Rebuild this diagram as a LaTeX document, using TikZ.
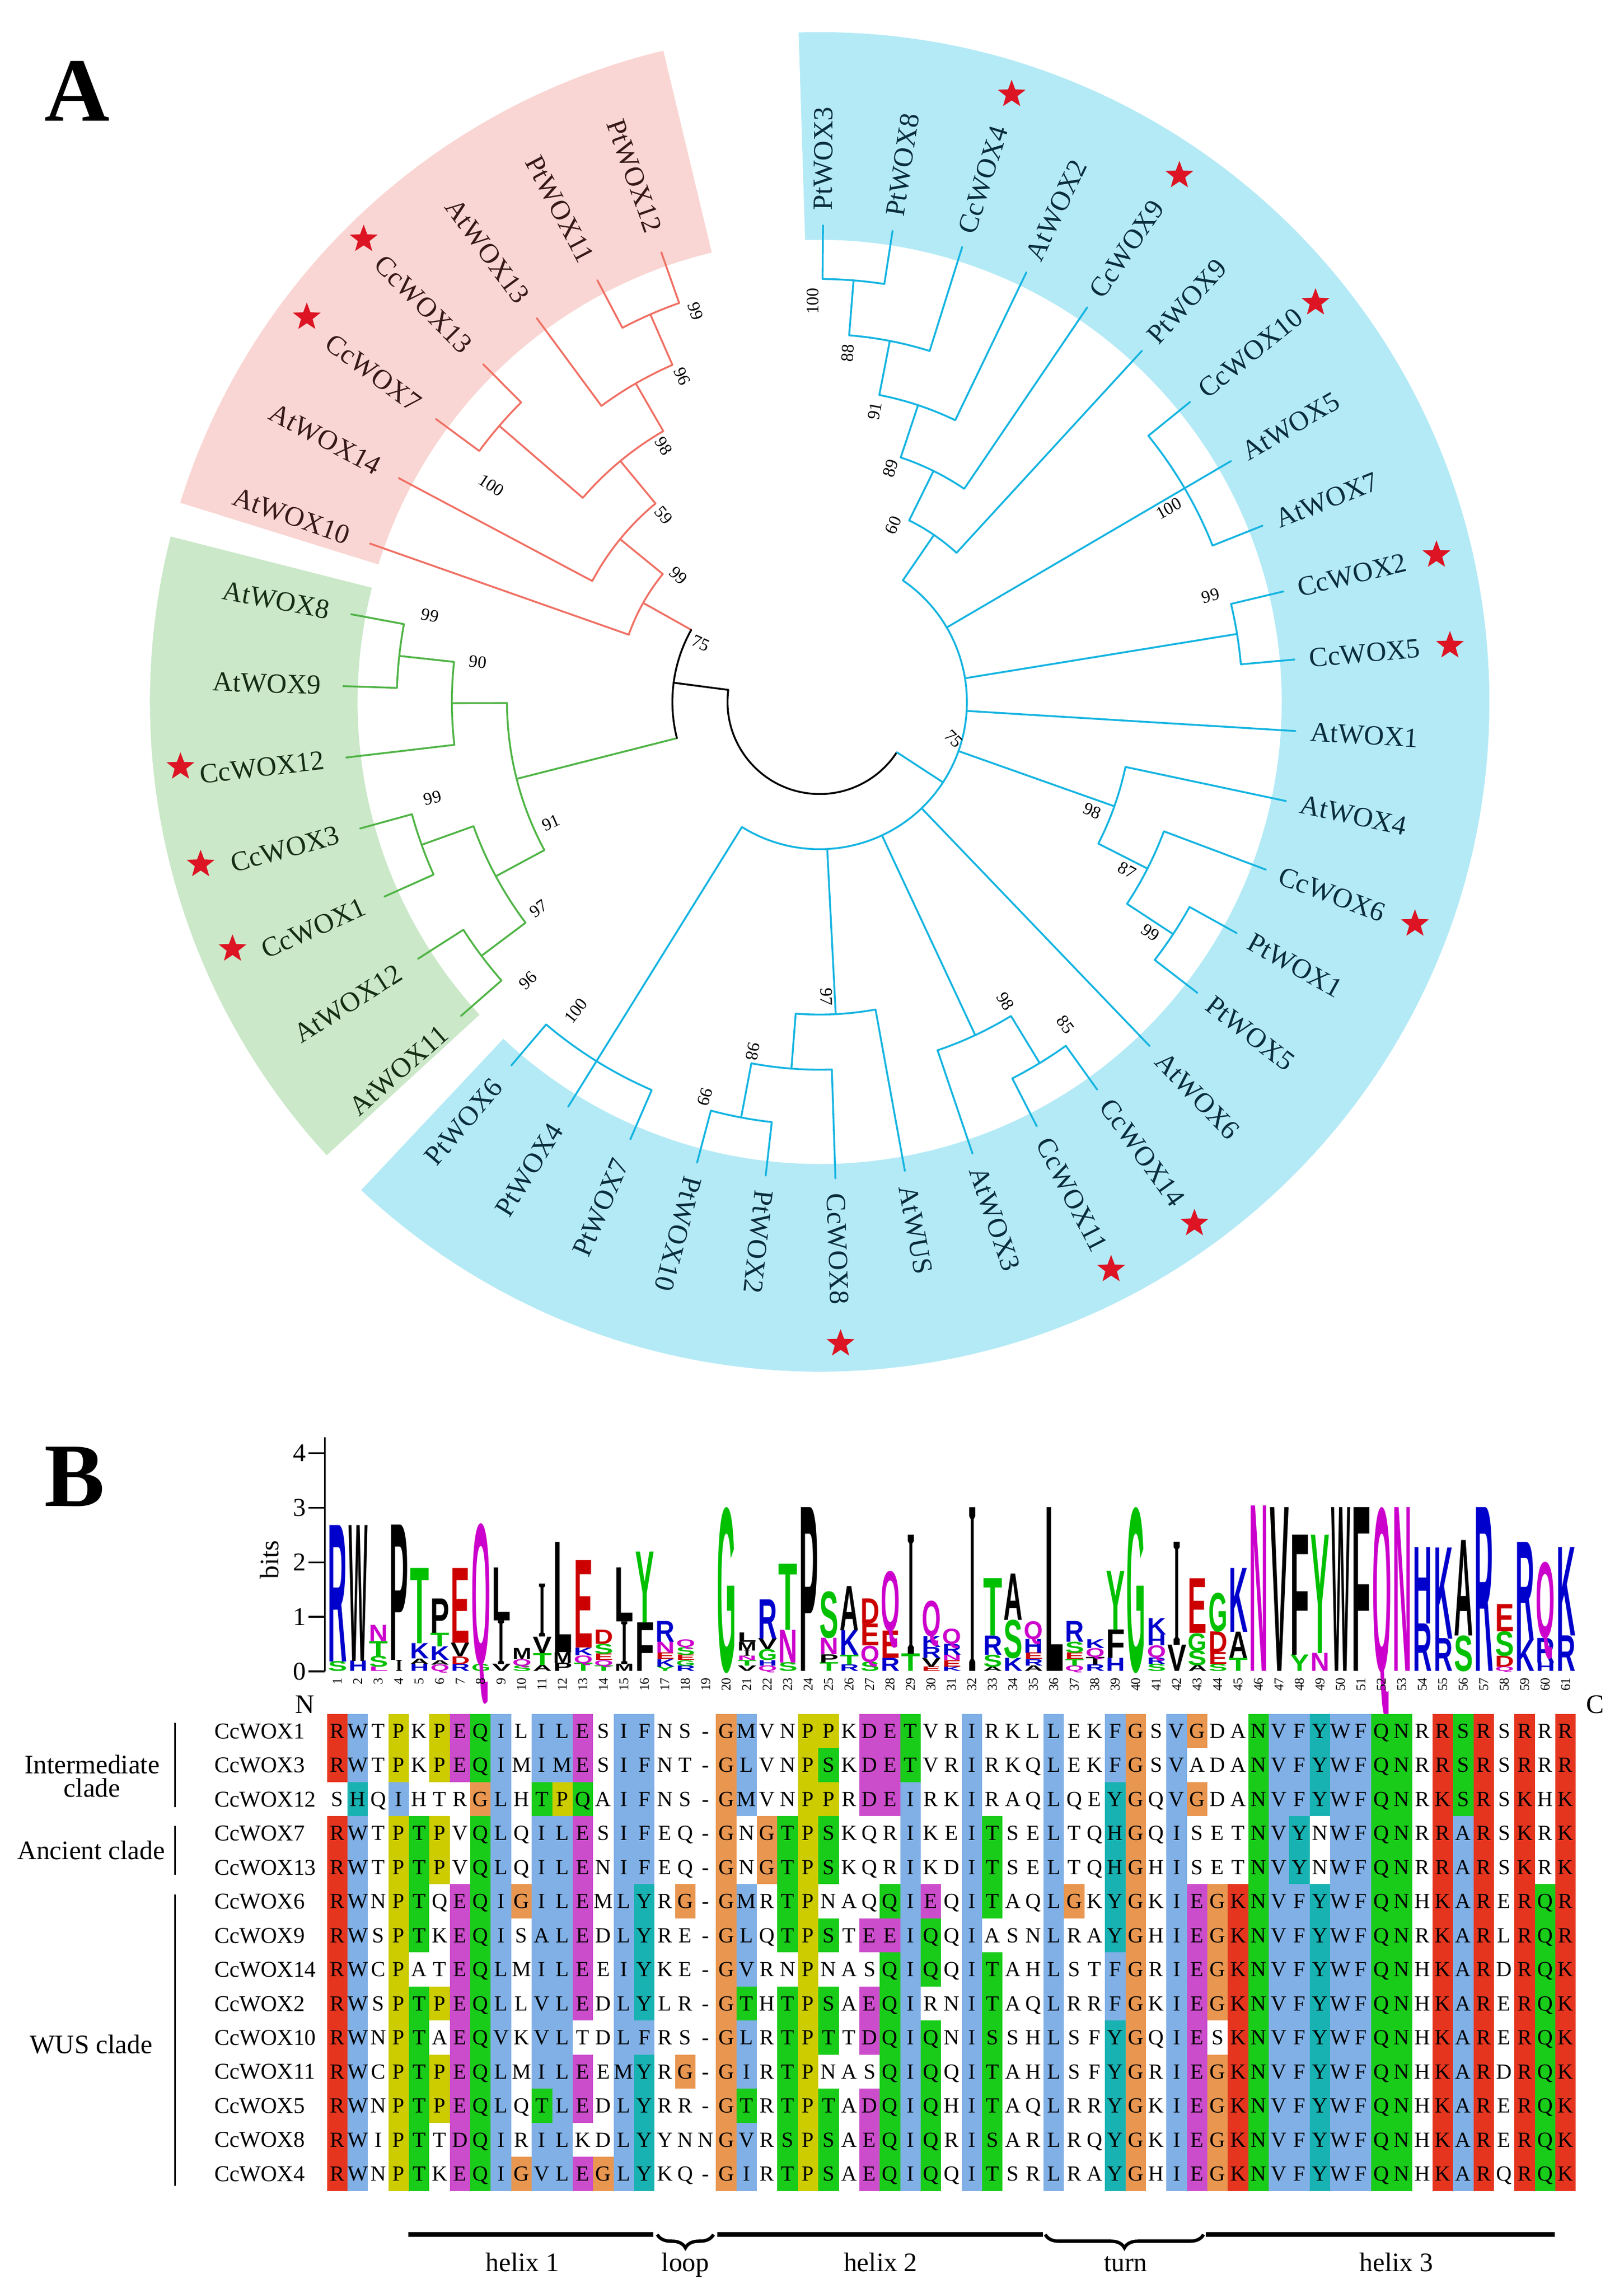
\documentclass[tikz,border=0pt]{standalone}
\usepackage{fontspec}
\usepackage{graphicx}
\setmainfont{Liberation Serif}
\newfontfamily\logosans{Liberation Sans}
\usetikzlibrary{shapes.geometric,decorations.pathreplacing}

\definecolor{pinkbg}{RGB}{249,214,211}
\definecolor{greenbg}{RGB}{203,232,201}
\definecolor{cyanbg}{RGB}{180,234,246}
\definecolor{pinkln}{RGB}{240,112,100}
\definecolor{greenln}{RGB}{80,180,70}
\definecolor{cyanln}{RGB}{20,180,225}
\definecolor{pinktx}{RGB}{55,25,25}
\definecolor{greentx}{RGB}{20,45,20}
\definecolor{cyantx}{RGB}{10,45,60}
\definecolor{starred}{RGB}{220,20,35}
\definecolor{cr}{RGB}{230,53,31}
\definecolor{cb}{RGB}{128,176,230}
\definecolor{cy}{RGB}{204,204,0}
\definecolor{cm}{RGB}{204,77,204}
\definecolor{cg}{RGB}{25,204,25}
\definecolor{co}{RGB}{232,150,80}
\definecolor{cc}{RGB}{25,178,178}
\definecolor{lgb}{RGB}{0,0,204}
\definecolor{lgg}{RGB}{0,192,0}
\definecolor{lgm}{RGB}{204,0,204}
\definecolor{lgr}{RGB}{204,0,0}
\definecolor{lgk}{RGB}{0,0,0}

% ---------- alignment table machinery ----------
\newcount\colidx
\def\rowidx{1}
\def\seqrow#1#2{\global\colidx=0 \def\rowidx{#1}\seqloop#2!!}
\def\seqloop#1#2{\ifx#1!\else\seqcell{#1}{#2}\expandafter\seqloop\fi}
\def\seqcell#1#2{%
  \global\advance\colidx by 1
  \pgfmathsetmacro\cx{223.6+14*(\the\colidx-1)}%
  \pgfmathsetmacro\cyb{395.9-23.29*\rowidx}%
  \ifx#2n\else\fill[fill=c#2] (\cx,\cyb) rectangle ++(14,23.29);\fi
  \node[res] at (\cx+7,\cyb+6.75) {#1};}

% ---------- logo machinery ----------
\def\letterI{I}
\newcommand\logocol[2]{%
  \gdef\ycum{0}%
  \foreach \L/\C/\H in {#2}{%
    \pgfmathsetmacro\ly{425.1+\ycum*37.3}%
    \pgfmathsetmacro\hmm{\H*37.3*0.25}%
    \edef\tmpL{\L}%
    \ifx\tmpL\letterI
      \pgfmathsetmacro\lx{223.6+14*(#1-1)+4.5}%
      \node[inner sep=0pt, anchor=base west, text=lg\C] at (\lx,\ly) {\resizebox{1.25mm}{\hmm mm}{\bfseries I}};%
    \else
      \pgfmathsetmacro\lx{223.6+14*(#1-1)+0.5}%
      \node[inner sep=0pt, anchor=base west, text=lg\C] at (\lx,\ly) {\resizebox{3.25mm}{\hmm mm}{\logosans\bfseries\L}};%
    \fi
    \pgfmathsetmacro\newy{\ycum+\H}%
    \xdef\ycum{\newy}%
  }}

% ---------- tree machinery ----------
\newcommand\branch[5]{%
  \coordinate (#2-base) at (#3:#4);
  \coordinate (#2) at (#3:#5);
  \draw[#1] (#2-base) -- (#2);}
\newcommand\nodearc[4]{\draw[#1] (#3:#2) arc[start angle=#3, end angle=#4, radius=#2];}

\begin{document}
\begin{tikzpicture}[x=0.25mm,y=0.25mm,
  pl/.style={draw=pinkln, line width=0.9pt, line cap=round},
  gl/.style={draw=greenln, line width=0.9pt, line cap=round},
  cl/.style={draw=cyanln, line width=0.9pt, line cap=round},
  kl/.style={draw=black, line width=0.9pt, line cap=round},
  leaflab/.style={font=\fontsize{13.5}{14}\selectfont, inner sep=0pt},
  boot/.style={font=\fontsize{8.5}{9}\selectfont, inner sep=0pt},
  starmark/.style={star, star points=5, star point ratio=2.4, fill=starred, draw=none, minimum size=5mm, inner sep=0pt},
  res/.style={font=\fontsize{10.5}{11}\selectfont, inner sep=0pt, anchor=base},
  rowlab/.style={font=\fontsize{11}{12}\selectfont, inner sep=0pt, anchor=base west},
  cladelab/.style={font=\fontsize{13}{11.5}\selectfont, align=center, inner sep=0pt},
  posnum/.style={font=\fontsize{6.5}{6.5}\selectfont, rotate=90, anchor=east, inner sep=0pt},
  helixlab/.style={font=\fontsize{13}{13}\selectfont, anchor=base, inner sep=0pt},
  bigletter/.style={font=\fontsize{44}{44}\selectfont\bfseries, inner sep=0pt}
]
\useasboundingbox (0,0) rectangle (1110.2,1568);

% ================= Panel A =================
\node[bigletter] (labA) at (52.6,1505.8) {A};

\begin{scope}[shift={(560.5,1088)}]
% clade backgrounds
\fill[pinkbg] (103.5:316) arc[start angle=103.5, end angle=162.7, radius=316] -- (162.7:458) arc[start angle=162.7, end angle=103.5, radius=458] -- cycle;
\fill[greenbg] (165.7:316) arc[start angle=165.7, end angle=222.6, radius=316] -- (222.6:458) arc[start angle=222.6, end angle=165.7, radius=458] -- cycle;
\fill[cyanbg] (-133.2:316) arc[start angle=-133.2, end angle=91.8, radius=316] -- (91.8:458) arc[start angle=91.8, end angle=-133.2, radius=458] -- cycle;

% pink clade
\nodearc{pl}{289.2}{109.4}{117.8}
\branch{pl}{PtWOX12}{109.4}{289.2}{326}
\branch{pl}{PtWOX11}{117.8}{289.2}{326}
\branch{pl}{nA}{113.6}{251.5}{289.2}
\nodearc{pl}{251.5}{113.6}{126.4}
\branch{pl}{AtWOX13}{126.4}{251.5}{326}
\branch{pl}{nB}{120}{213.8}{251.5}
\nodearc{pl}{289.2}{134.9}{143.6}
\branch{pl}{CcWOX13}{134.9}{289.2}{326}
\branch{pl}{CcWOX7}{143.6}{289.2}{326}
\branch{pl}{nC}{139.25}{213.8}{289.2}
\nodearc{pl}{213.8}{120}{139.25}
\branch{pl}{nD}{129.6}{176.1}{213.8}
\nodearc{pl}{176.1}{129.6}{152}
\branch{pl}{AtWOX14}{152}{176.1}{326}
\branch{pl}{nE}{140.8}{138.4}{176.1}
\nodearc{pl}{138.4}{140.8}{160.6}
\branch{pl}{AtWOX10}{160.6}{138.4}{326}
\branch{pl}{nF}{150.7}{100.7}{138.4}
% green clade
\nodearc{gl}{289.2}{169.4}{178.1}
\branch{gl}{AtWOX8}{169.4}{289.2}{326}
\branch{gl}{AtWOX9}{178.1}{289.2}{326}
\branch{gl}{nG}{173.75}{251.5}{289.2}
\nodearc{gl}{251.5}{173.75}{186.7}
\branch{gl}{CcWOX12}{186.7}{251.5}{326}
\branch{gl}{nH}{180.2}{213.8}{251.5}
\nodearc{gl}{289.2}{195.4}{204.1}
\branch{gl}{CcWOX3}{195.4}{289.2}{326}
\branch{gl}{CcWOX1}{204.1}{289.2}{326}
\branch{gl}{nI}{199.75}{251.5}{289.2}
\nodearc{gl}{289.2}{212.6}{221.2}
\branch{gl}{AtWOX12}{212.6}{289.2}{326}
\branch{gl}{AtWOX11}{221.2}{289.2}{326}
\branch{gl}{nK}{216.9}{251.5}{289.2}
\nodearc{gl}{251.5}{199.75}{216.9}
\branch{gl}{nJ}{208.3}{213.8}{251.5}
\nodearc{gl}{213.8}{180.2}{208.3}
\branch{gl}{nL}{194.25}{100.7}{213.8}
% root
\nodearc{kl}{100.7}{150.7}{194.25}
\branch{kl}{nPG}{172.5}{63}{100.7}
\nodearc{kl}{63}{172.5}{326.9}
% cyan clade
\branch{cl}{nU}{326.9}{63}{100.7}
\nodearc{cl}{100.7}{-121.85}{55.6}
\branch{cl}{nQ}{55.6}{100.7}{138.4}
\nodearc{cl}{138.4}{47.45}{63.75}
\branch{cl}{PtWOX9}{47.45}{138.4}{326}
\branch{cl}{nP}{63.75}{138.4}{176.1}
\nodearc{cl}{176.1}{55.85}{71.65}
\branch{cl}{CcWOX9}{55.85}{176.1}{326}
\branch{cl}{nO}{71.65}{176.1}{213.8}
\nodearc{cl}{213.8}{64.3}{79}
\branch{cl}{AtWOX2}{64.3}{213.8}{326}
\branch{cl}{nN}{79}{213.8}{251.5}
\nodearc{cl}{251.5}{72.6}{85.4}
\branch{cl}{CcWOX4}{72.6}{251.5}{326}
\branch{cl}{nM}{85.4}{251.5}{289.2}
\nodearc{cl}{289.2}{81.2}{89.6}
\branch{cl}{PtWOX3}{89.6}{289.2}{326}
\branch{cl}{PtWOX8}{81.2}{289.2}{326}
\branch{cl}{nR}{30.35}{100.7}{289.2}
\nodearc{cl}{289.2}{21.7}{39}
\branch{cl}{CcWOX10}{39}{289.2}{326}
\branch{cl}{AtWOX5}{30.35}{289.2}{326}
\branch{cl}{AtWOX7}{21.7}{289.2}{326}
\branch{cl}{nS}{9.25}{100.7}{289.2}
\nodearc{cl}{289.2}{5.1}{13.4}
\branch{cl}{CcWOX2}{13.4}{289.2}{326}
\branch{cl}{CcWOX5}{5.1}{289.2}{326}
\branch{cl}{AtWOX1}{-3.5}{100.7}{326}
\branch{cl}{nV}{-19.5}{100.7}{213.8}
\nodearc{cl}{213.8}{-26.95}{-12}
\branch{cl}{AtWOX4}{-12}{213.8}{326}
\branch{cl}{nZ}{-26.95}{213.8}{251.5}
\nodearc{cl}{251.5}{-33.3}{-20.6}
\branch{cl}{CcWOX6}{-20.6}{251.5}{326}
\branch{cl}{nAA}{-33.3}{251.5}{289.2}
\nodearc{cl}{289.2}{-37.6}{-29}
\branch{cl}{PtWOX1}{-29}{289.2}{326}
\branch{cl}{PtWOX5}{-37.6}{289.2}{326}
\branch{cl}{AtWOX6}{-46.2}{100.7}{326}
\branch{cl}{nW}{-64.97}{100.7}{251.5}
\nodearc{cl}{251.5}{-71.3}{-58.65}
\branch{cl}{AtWOX3}{-71.3}{251.5}{326}
\branch{cl}{nBB}{-58.65}{251.5}{289.2}
\nodearc{cl}{289.2}{-62.9}{-54.4}
\branch{cl}{CcWOX14}{-54.4}{289.2}{326}
\branch{cl}{CcWOX11}{-62.9}{289.2}{326}
\branch{cl}{nX}{-87.05}{100.7}{213.8}
\nodearc{cl}{213.8}{-94.4}{-79.7}
\branch{cl}{AtWUS}{-79.7}{213.8}{326}
\branch{cl}{nCC}{-94.4}{213.8}{251.5}
\nodearc{cl}{251.5}{-100.7}{-88.1}
\branch{cl}{CcWOX8}{-88.1}{251.5}{326}
\branch{cl}{nDD}{-100.7}{251.5}{289.2}
\nodearc{cl}{289.2}{-104.9}{-96.5}
\branch{cl}{PtWOX2}{-96.5}{289.2}{326}
\branch{cl}{PtWOX10}{-104.9}{289.2}{326}
\branch{cl}{nY}{-121.85}{100.7}{289.2}
\nodearc{cl}{289.2}{-130.3}{-113.4}
\branch{cl}{PtWOX7}{-113.4}{289.2}{326}
\branch{cl}{PtWOX4}{-121.85}{289.2}{326}
\branch{cl}{PtWOX6}{-130.3}{289.2}{326}

% leaf labels
\foreach \nm/\an/\tc/\fl in {
 PtWOX3/89.6/cyantx/0, PtWOX8/81.2/cyantx/0, CcWOX4/72.6/cyantx/0, AtWOX2/64.3/cyantx/0,
 CcWOX9/55.85/cyantx/0, PtWOX9/47.45/cyantx/0, CcWOX10/39/cyantx/0, AtWOX5/30.35/cyantx/0,
 AtWOX7/21.7/cyantx/0, CcWOX2/13.4/cyantx/0, CcWOX5/5.1/cyantx/0, AtWOX1/-3.5/cyantx/0,
 AtWOX4/-12/cyantx/0, CcWOX6/-20.6/cyantx/0, PtWOX1/-29/cyantx/0, PtWOX5/-37.6/cyantx/0,
 AtWOX6/-46.2/cyantx/0, CcWOX14/-54.4/cyantx/0, CcWOX11/-62.9/cyantx/0, AtWOX3/-71.3/cyantx/0,
 AtWUS/-79.7/cyantx/0, CcWOX8/-88.1/cyantx/0, PtWOX2/-96.5/cyantx/0, PtWOX10/-104.9/cyantx/0,
 PtWOX7/-113.4/cyantx/1, PtWOX4/-121.85/cyantx/1, PtWOX6/-130.3/cyantx/1,
 AtWOX11/221.2/greentx/1, AtWOX12/212.6/greentx/1, CcWOX1/204.1/greentx/1, CcWOX3/195.4/greentx/1,
 CcWOX12/186.7/greentx/1, AtWOX9/178.1/greentx/1, AtWOX8/169.4/greentx/1,
 AtWOX10/160.6/pinktx/1, AtWOX14/152/pinktx/1, CcWOX7/143.6/pinktx/1, CcWOX13/134.9/pinktx/1,
 AtWOX13/126.4/pinktx/1, PtWOX11/117.8/pinktx/1, PtWOX12/109.4/pinktx/1}{
  \ifnum\fl=1
    \pgfmathsetmacro\rr{\an-180}
    \node[leaflab, text=\tc, rotate=\rr, anchor=east] (lab-\nm) at (\an:341) {\nm};
  \else
    \node[leaflab, text=\tc, rotate=\an, anchor=west] (lab-\nm) at (\an:336) {\nm};
  \fi
}

% bootstrap values
\foreach \v/\a/\r/\rot [count=\i] in {
 99/107.6/280.4/-72.4, 96/112.9/241.7/-67, 98/121.4/205/-58.6, 59/129.9/166.3/-50,
 99/138.2/129.6/-41.8, 75/153.7/90.6/-24, 100/146.6/269/-33.4,
 99/167.5/273/-12.5, 90/173.3/235.4/-6.7, 91/204.2/201.4/24.2, 99/193.9/272.7/13.9,
 97/216.3/238.5/36.3, 96/223.7/275.7/43.7,
 100/91/274.2/90, 88/85.4/239.4/85.4, 91/79.3/202.5/79.3, 89/73.1/167/73.1, 60/67.4/131/67.4,
 100/29/272.9/29, 99/15.2/277/15.2, 75/-15.4/95/-45, 98/-21.8/200.8/-21.8,
 87/-28.7/239.8/-28.7, 99/-34.9/275.7/-34.9, 98/-58.2/240.9/-58.2, 85/-52.7/277.4/-52.7,
 97/-88.7/201.6/-88.7, 98/-100.8/243.4/-100.8, 99/-106.2/281.2/-106.2, 100/231.7/269/51.7}{
  \node[boot, rotate=\rot] (bs\i) at (\a:\r) {\v};
}
\end{scope}

% stars
\foreach \sx/\sy [count=\i] in {248.7/1404.4, 209.8/1351.1, 691.8/1503.5, 806.5/1448, 899.6/1361,
  982.3/1188.5, 991.5/1126.5, 967.6/936.2, 816.8/731.4, 759.8/699.9, 574.8/649.1,
  123.4/1043.6, 137.2/976.9, 159/919.1}{
  \node[starmark] (star\i) at (\sx,\sy) {};
}

% ================= Panel B =================
\node[bigletter] (labB) at (51,558) {B};

% logo axis
\draw[line width=0.8pt] (222,585) -- (222,425.1);
\foreach \b in {0,...,4}{
  \draw[line width=0.8pt] (211,{425.1+37.3*\b}) -- (222,{425.1+37.3*\b});
  \node[anchor=east, inner sep=0pt, font=\fontsize{12.5}{13}\selectfont] (tick\b) at (209.5,{425.1+37.3*\b}) {\b};
}
\node[rotate=90, inner sep=0pt, font=\fontsize{13}{13}\selectfont] (bitslab) at (184.2,501.5) {bits};

% logo letters
\logocol{1}{S/g/0.18,R/b/2.5}
\logocol{2}{H/b/0.19,W/k/2.49}
\logocol{3}{L/m/0.08,S/g/0.2,T/g/0.27,N/m/0.3}
\logocol{4}{I/k/0.2,P/k/2.48}
\logocol{5}{H/b/0.13,A/k/0.1,K/b/0.28,T/g/1.38}
\logocol{6}{Q/m/0.12,A/k/0.08,K/b/0.25,T/g/0.25,P/k/0.63}
\logocol{7}{R/b/0.13,D/r/0.14,V/k/0.25,E/r/1.37}
\logocol{8}{G/g/0.13,Q/m/2.58}
\logocol{9}{V/k/0.13,I/k/0.8,L/k/0.97}
\logocol{10}{S/g/0.1,Q/m/0.12,M/k/0.2}
\logocol{11}{A/k/0.11,T/g/0.22,V/k/0.3,I/k/0.97}
\logocol{12}{P/k/0.15,M/k/0.2,L/k/2.02}
\logocol{13}{T/g/0.15,Q/m/0.14,K/b/0.14,E/r/1.6}
\logocol{14}{T/g/0.1,Q/m/0.1,E/r/0.12,S/g/0.18,D/r/0.26}
\logocol{15}{M/k/0.13,I/k/0.78,L/k/0.99}
\logocol{16}{F/k/0.89,Y/g/1.3}
\logocol{17}{Y/g/0.08,K/b/0.14,E/r/0.12,N/m/0.2,R/b/0.38}
\logocol{18}{R/b/0.1,G/g/0.1,E/r/0.1,S/g/0.14,Q/m/0.14}
\logocol{20}{G/g/3.0}
\logocol{21}{V/k/0.1,T/g/0.1,N/m/0.08,I/k/0.1,M/k/0.16,L/k/0.17}
\logocol{22}{Q/m/0.1,H/b/0.1,G/g/0.2,V/k/0.2,R/b/0.72}
\logocol{23}{S/g/0.16,N/m/0.6,T/g/1.21}
\logocol{24}{P/k/3.0}
\logocol{25}{T/g/0.16,P/k/0.15,N/m/0.3,S/g/0.85}
\logocol{26}{R/b/0.12,T/g/0.18,K/b/0.45,A/k/0.81}
\logocol{27}{S/g/0.17,Q/m/0.3,E/r/0.4,D/r/0.46}
\logocol{28}{R/b/0.24,E/r/0.5,Q/m/1.1}
\logocol{29}{T/g/0.32,I/k/2.18}
\logocol{30}{E/r/0.08,V/k/0.16,R/b/0.2,K/b/0.2,Q/m/0.65}
\logocol{31}{K/b/0.08,E/r/0.12,N/m/0.1,R/b/0.2,Q/m/0.28}
\logocol{32}{I/k/3.0}
\logocol{33}{A/k/0.08,S/g/0.22,R/b/0.35,T/g/1.05}
\logocol{34}{K/b/0.24,S/g/0.7,A/k/0.85}
\logocol{35}{A/k/0.1,R/b/0.12,E/r/0.12,H/b/0.25,Q/m/0.33}
\logocol{36}{L/k/3.0}
\logocol{37}{Q/m/0.1,T/g/0.12,E/r/0.12,S/g/0.2,R/b/0.38}
\logocol{38}{R/b/0.12,T/k/0.14,Q/m/0.16,K/b/0.16}
\logocol{39}{H/b/0.24,F/k/0.52,Y/g/1.08}
\logocol{40}{G/g/3.0}
\logocol{41}{S/g/0.13,R/b/0.12,Q/m/0.22,H/b/0.2,K/b/0.3}
\logocol{42}{V/k/0.48,I/k/1.89}
\logocol{43}{A/k/0.11,S/g/0.27,G/g/0.32,E/r/1.0}
\logocol{44}{S/g/0.13,E/r/0.22,D/r/0.38,G/g/0.71}
\logocol{45}{T/g/0.24,A/k/0.48,K/b/1.17}
\logocol{46}{N/m/3.03}
\logocol{47}{V/k/3.0}
\logocol{48}{Y/g/0.3,F/k/2.2}
\logocol{49}{N/m/0.33,Y/g/2.17}
\logocol{50}{W/k/3.0}
\logocol{51}{F/k/3.0}
\logocol{52}{Q/m/3.0}
\logocol{53}{N/m/3.0}
\logocol{54}{R/b/0.87,H/b/1.4}
\logocol{55}{R/b/0.6,K/b/1.67}
\logocol{56}{S/g/0.65,A/k/1.75}
\logocol{57}{R/b/3.0}
\logocol{58}{Q/m/0.08,D/r/0.2,S/g/0.45,E/r/0.5}
\logocol{59}{K/b/0.57,R/b/1.8}
\logocol{60}{H/b/0.16,R/b/0.45,Q/m/1.39}
\logocol{61}{R/b/0.65,K/b/1.62}

% position numbers
\foreach \k in {1,...,61}{
  \node[posnum] (pos\k) at ({223.6+14*(\k-0.5)},421) {\k};
}

% N / C termini
\node[anchor=base, inner sep=0pt, font=\fontsize{13}{13}\selectfont] (Nterm) at (208.5,396.5) {N};
\node[anchor=base, inner sep=0pt, font=\fontsize{13}{13}\selectfont] (Cterm) at (1091,396.5) {C};

% alignment
\seqrow{1}{Rr Wb Tn Py Kn Py Em Qg Ib Ln Ib Lb Em Sn Ib Fb Nn Sn -n Go Mb Vn Nn Py Py Kn Dm Em Tg Vn Rn Ib Rn Kn Ln Lb En Kn Fb Go Sn Vb Go Dn An Ng Vb Fb Yc Wb Fb Qg Ng Rn Rr Sg Rr Sn Rr Rn Rr}
\seqrow{2}{Rr Wb Tn Py Kn Py Em Qg Ib Mn Ib Mb Em Sn Ib Fb Nn Tn -n Go Lb Vn Nn Py Sg Kn Dm Em Tg Vn Rn Ib Rn Kn Qn Lb En Kn Fb Go Sn Vb An Dn An Ng Vb Fb Yc Wb Fb Qg Ng Rn Rr Sg Rr Sn Rr Rn Rr}
\seqrow{3}{Sn Hc Qn Ib Hn Tn Rn Go Lb Hn Tg Py Qg An Ib Fb Nn Sn -n Go Mb Vn Nn Py Py Rn Dm Em Ib Rn Kn Ib Rn An Qn Lb Qn En Yc Go Qn Vb Go Dn An Ng Vb Fb Yc Wb Fb Qg Ng Rn Kr Sg Rr Sn Kr Hn Kr}
\seqrow{4}{Rr Wb Tn Py Tg Py Vn Qg Lb Qn Ib Lb Em Sn Ib Fb En Qn -n Go Nn Go Tg Py Sg Kn Qn Rn Ib Kn En Ib Tg Sn En Lb Tn Qn Hc Go Qn Ib Sn En Tn Ng Vb Yc Nn Wb Fb Qg Ng Rn Rr Ab Rr Sn Kr Rn Kr}
\seqrow{5}{Rr Wb Tn Py Tg Py Vn Qg Lb Qn Ib Lb Em Nn Ib Fb En Qn -n Go Nn Go Tg Py Sg Kn Qn Rn Ib Kn Dn Ib Tg Sn En Lb Tn Qn Hc Go Hn Ib Sn En Tn Ng Vb Yc Nn Wb Fb Qg Ng Rn Rr Ab Rr Sn Kr Rn Kr}
\seqrow{6}{Rr Wb Nn Py Tg Qn Em Qg Ib Go Ib Lb Em Mn Lb Yc Rn Go -n Go Mb Rn Tg Py Nn An Qn Qg Ib Em Qn Ib Tg An Qn Lb Go Kn Yc Go Kn Ib Em Go Kr Ng Vb Fb Yc Wb Fb Qg Ng Hn Kr Ab Rr En Rr Qg Rr}
\seqrow{7}{Rr Wb Sn Py Tg Kn Em Qg Ib Sn Ab Lb Em Dn Lb Yc Rn En -n Go Lb Qn Tg Py Sg Tn Em Em Ib Qg Qn Ib An Sn Nn Lb Rn An Yc Go Hn Ib Em Go Kr Ng Vb Fb Yc Wb Fb Qg Ng Rn Kr Ab Rr Ln Rr Qg Rr}
\seqrow{8}{Rr Wb Cn Py An Tn Em Qg Lb Mn Ib Lb Em En Ib Yc Kn En -n Go Vb Rn Nn Py Nn An Sn Qg Ib Qg Qn Ib Tg An Hn Lb Sn Tn Fb Go Rn Ib Em Go Kr Ng Vb Fb Yc Wb Fb Qg Ng Hn Kr Ab Rr Dn Rr Qg Kr}
\seqrow{9}{Rr Wb Sn Py Tg Py Em Qg Lb Ln Vb Lb Em Dn Lb Yc Ln Rn -n Go Tg Hn Tg Py Sg An Em Qg Ib Rn Nn Ib Tg An Qn Lb Rn Rn Fb Go Kn Ib Em Go Kr Ng Vb Fb Yc Wb Fb Qg Ng Hn Kr Ab Rr En Rr Qg Kr}
\seqrow{10}{Rr Wb Nn Py Tg An Em Qg Vb Kn Vb Lb Tn Dn Lb Fb Rn Sn -n Go Lb Rn Tg Py Tg Tn Dm Qg Ib Qg Nn Ib Sg Sn Hn Lb Sn Fn Yc Go Qn Ib Em Sn Kr Ng Vb Fb Yc Wb Fb Qg Ng Hn Kr Ab Rr En Rr Qg Kr}
\seqrow{11}{Rr Wb Cn Py Tg Py Em Qg Lb Mn Ib Lb Em En Mb Yc Rn Go -n Go Ib Rn Tg Py Nn An Sn Qg Ib Qg Qn Ib Tg An Hn Lb Sn Fn Yc Go Rn Ib Em Go Kr Ng Vb Fb Yc Wb Fb Qg Ng Hn Kr Ab Rr Dn Rr Qg Kr}
\seqrow{12}{Rr Wb Nn Py Tg Py Em Qg Lb Qn Tg Lb Em Dn Lb Yc Rn Rn -n Go Tg Rn Tg Py Tg An Dm Qg Ib Qg Hn Ib Tg An Qn Lb Rn Rn Yc Go Kn Ib Em Go Kr Ng Vb Fb Yc Wb Fb Qg Ng Hn Kr Ab Rr En Rr Qg Kr}
\seqrow{13}{Rr Wb In Py Tg Tn Dm Qg Ib Rn Ib Lb Kn Dn Lb Yc Yn Nn Nn Go Vb Rn Sg Py Sg An Em Qg Ib Qg Rn Ib Sg An Rn Lb Rn Qn Yc Go Kn Ib Em Go Kr Ng Vb Fb Yc Wb Fb Qg Ng Hn Kr Ab Rr En Rr Qg Kr}
\seqrow{14}{Rr Wb Nn Py Tg Kn Em Qg Ib Go Vb Lb Em Go Lb Yc Kn Qn -n Go Ib Rn Tg Py Sg An Em Qg Ib Qg Qn Ib Tg Sn Rn Lb Rn An Yc Go Hn Ib Em Go Kr Ng Vb Fb Yc Wb Fb Qg Ng Hn Kr Ab Rr Qn Rr Qg Kr}

% row labels
\foreach \r/\nm in {1/CcWOX1, 2/CcWOX3, 3/CcWOX12, 4/CcWOX7, 5/CcWOX13, 6/CcWOX6, 7/CcWOX9,
  8/CcWOX14, 9/CcWOX2, 10/CcWOX10, 11/CcWOX11, 12/CcWOX5, 13/CcWOX8, 14/CcWOX4}{
  \node[rowlab] (row\r) at (146.3,{395.9-23.29*\r+6.5}) {\nm};
}

% clade labels and bars
\node[cladelab] (cl1) at (63,353.5) {Intermediate\\clade};
\node[cladelab] (cl2) at (62.3,302.9) {Ancient clade};
\node[cladelab] (cl3) at (62.3,170) {WUS clade};
\draw[line width=0.85pt] (119.8,390) -- (119.8,332.3);
\draw[line width=0.85pt] (119.8,319.6) -- (119.8,286.1);
\draw[line width=0.85pt] (119.8,272.4) -- (119.8,73.1);

% secondary structure
\draw[line width=2.2pt] (279.2,40) -- (446.7,40);
\draw[line width=2.2pt] (490.7,40) -- (713.2,40);
\draw[line width=2.2pt] (824.7,40) -- (1063.1,40);
\draw[line width=1.6pt, decorate, decoration={brace, mirror, amplitude=6.5pt}] (449.5,40) -- (487.9,40);
\draw[line width=1.6pt, decorate, decoration={brace, mirror, amplitude=6.5pt}] (714.8,40) -- (823,40);
\node[helixlab] (h1) at (357.2,14.6) {helix 1};
\node[helixlab] (h2) at (468.7,14.6) {loop};
\node[helixlab] (h3) at (602.2,14.6) {helix 2};
\node[helixlab] (h4) at (769.7,14.6) {turn};
\node[helixlab] (h5) at (954.9,14.6) {helix 3};

\end{tikzpicture}
\end{document}
